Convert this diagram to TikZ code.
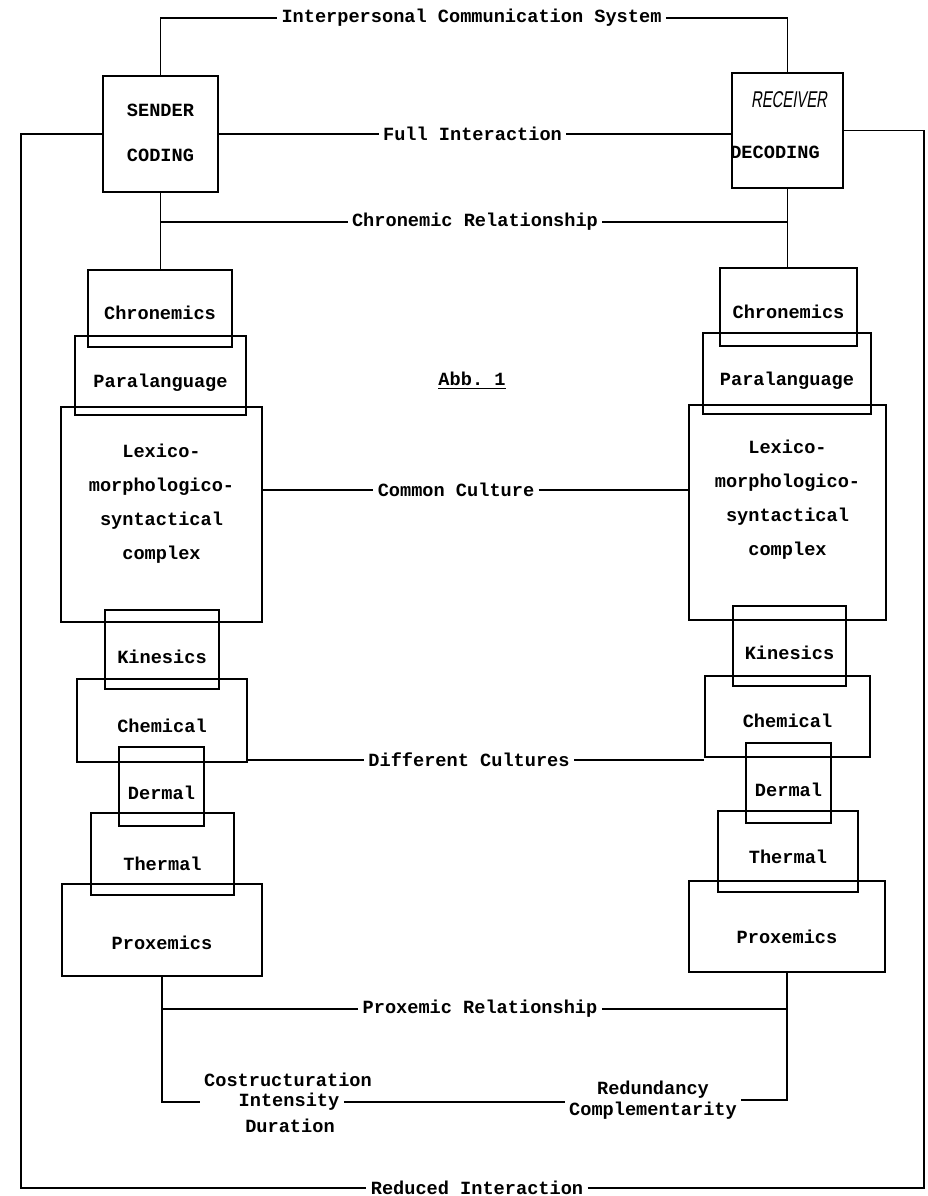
\documentclass[tikz,border=0pt]{standalone}
\usepackage{fontspec}
\setmonofont{Liberation Mono}
\newfontfamily\handfont[FakeStretch=0.65,FakeSlant=0.15]{Liberation Sans}
\begin{document}
\begin{tikzpicture}[x=0.02cm,y=-0.02cm,line width=1.1pt,
    every node/.style={font=\ttfamily\bfseries\fontsize{10.6}{13}\selectfont},
    box/.style 2 args={draw,line width=1.2pt,minimum width=#1*0.02cm,minimum height=#2*0.02cm,inner sep=0pt},
    txt/.style 2 args={label={[inner sep=0pt,align=center,yshift=-0.02cm*(#1)]center:#2}},
    lbl/.style={inner sep=2pt,align=center}]
    \useasboundingbox (0,0) rectangle (927,1196);
    % sender column
    \node[box={115}{116},txt={-1}{SENDER\\[12.5pt]CODING}] (sender) at (160.5,134) {};
    \node[box={144}{77},txt={4.5}{Chronemics}] (lchron) at (160,308.5) {};
    \node[box={171}{79},txt={7.5}{Paralanguage}] (lpara) at (160.5,375.5) {};
    \node[box={201}{215},txt={-11}{Lexico-\\[6.3pt]morphologico-\\[6.3pt]syntactical\\[6.3pt]complex}] (llex) at (161.5,514.5) {};
    \node[box={114}{79},txt={7}{Kinesics}] (lkin) at (162,649.5) {};
    \node[box={170}{83},txt={5.5}{Chemical}] (lchem) at (162,720.5) {};
    \node[box={85}{79},txt={6.5}{Dermal}] (lderm) at (161.5,786.5) {};
    \node[box={143}{82},txt={10}{Thermal}] (ltherm) at (162.5,854) {};
    \node[box={200}{92},txt={13}{Proxemics}] (lprox) at (162,930) {};
    % receiver column
    \node[box={111}{115},
          label={[inner sep=0pt,xshift=0.03cm,yshift=0.61cm]center:{\handfont\mdseries\fontsize{13}{13}\selectfont RECEIVER}},
          label={[inner sep=0pt,xshift=-0.25cm,yshift=-0.43cm]center:DECODING}] (receiver) at (787.5,130.5) {};
    \node[box={137}{78},txt={5}{Chronemics}] (rchron) at (788.5,307) {};
    \node[box={168}{81},txt={7.5}{Paralanguage}] (rpara) at (787,373.5) {};
    \node[box={197}{215},txt={-13}{Lexico-\\[6.3pt]morphologico-\\[6.3pt]syntactical\\[6.3pt]complex}] (rlex) at (787.5,512.5) {};
    \node[box={113}{80},txt={7}{Kinesics}] (rkin) at (789.5,646) {};
    \node[box={165}{81},txt={4.5}{Chemical}] (rchem) at (787.5,716.5) {};
    \node[box={85}{80},txt={7}{Dermal}] (rderm) at (788.5,783) {};
    \node[box={140}{81},txt={5.5}{Thermal}] (rtherm) at (788,851.5) {};
    \node[box={196}{91},txt={10.5}{Proxemics}] (rprox) at (787,926.5) {};
    % relation labels
    \node[lbl] (sys) at (471.5,18) {Interpersonal Communication System};
    \node[lbl] (full) at (472.5,134) {Full Interaction};
    \node[lbl] (chronrel) at (475,222) {Chronemic Relationship};
    \node[lbl] (abb) at (472,381) {\underline{Abb. 1}};
    \node[lbl] (common) at (456,490) {Common Culture};
    \node[lbl] (diff) at (469,760) {Different Cultures};
    \node[lbl] (proxrel) at (480,1009) {Proxemic Relationship};
    \node[lbl] (costr) at (288,1080) {Costructuration};
    \node[lbl] (inten) at (289,1102) {Intensity};
    \node[lbl] (dur) at (290,1126) {Duration};
    \node[lbl] (redund) at (653,1100) {Redundancy\\[-1pt]Complementarity};
    \node[lbl] (reduced) at (477,1188) {Reduced Interaction};
    \coordinate (leftrail) at (21,0);
    \coordinate (rightrail) at (924,0);
    % connectors
    \draw (sender.north) |- (sys.west);
    \draw (sys.east) -| (receiver.north);
    \draw (sender.east) -- (full.west);
    \draw (full.east) -- (full.east -| receiver.west);
    \draw (sender.south) -- (sender.south |- lchron.north);
    \draw (receiver.south) -- (receiver.south |- rchron.north);
    \draw (chronrel.west) -- (chronrel.west -| sender.south);
    \draw (chronrel.east) -- (chronrel.east -| receiver.south);
    \draw (llex.east |- common) -- (common.west);
    \draw (common.east) -- (common.east -| rlex.west);
    \draw (lchem.east |- diff) -- (diff.west);
    \draw (diff.east) -- (diff.east -| rchem.west);
    \draw (lprox.south) |- (costr.west |- inten);
    \draw (proxrel.west) -- (proxrel.west -| lprox.south);
    \draw (proxrel.east) -- (proxrel.east -| rprox.south);
    \draw (rprox.south) |- (redund.east);
    \draw (inten.east) -- (inten.east -| redund.west);
    \draw (sender.west) -- (sender.west -| leftrail) |- (reduced.west);
    \draw (reduced.east) -| (rightrail |- receiver.east) -- (receiver.east);
\end{tikzpicture}
\end{document}
